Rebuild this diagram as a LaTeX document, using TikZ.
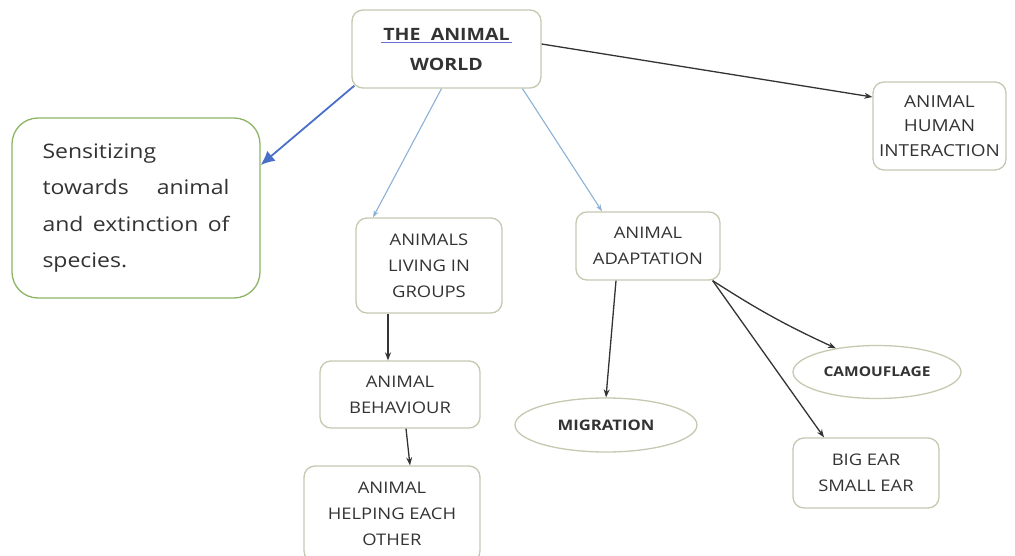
\documentclass[tikz,border=0pt]{standalone}
\usepackage{fontspec}
\setmainfont{Open Sans}[FakeStretch=1.15]
\usetikzlibrary{arrows.meta,shapes.geometric,calc}
\definecolor{txt}{HTML}{333333}
\definecolor{boxline}{HTML}{C4C9B0}
\definecolor{greenline}{HTML}{8DB566}
\definecolor{darkblue}{HTML}{4A6FC8}
\definecolor{lightblue}{HTML}{8CB0D6}
\definecolor{arrowgray}{HTML}{333333}
\definecolor{ulblue}{HTML}{6A6FD0}
\begin{document}
\begin{tikzpicture}[x=1pt,y=-1pt,
  box/.style={draw=boxline,line width=1.3pt,rounded corners=11pt,align=center,text=txt,inner sep=0pt,
    font={\fontsize{16}{26}\selectfont}},
  oval/.style={draw=boxline,line width=1.3pt,ellipse,inner sep=0pt,text=txt},
  conn/.style={draw=arrowgray,line width=1.3pt,-{Stealth[length=8pt,width=6pt]}},
  lconn/.style={draw=lightblue,line width=1.1pt,-{Stealth[length=7pt,width=5pt]}}]
\useasboundingbox (0,0) rectangle (1015,556);
\clip (0,0) rectangle (1015,556);

\node[box,minimum width=189pt,minimum height=78pt,font={\fontsize{17}{30}\selectfont\bfseries}] (taw) at (446.5,49) {THE\ \ ANIMAL\\WORLD};
\draw[ulblue,line width=1pt] ($(taw.center)+(-66,-6)$) -- ++(131,0);

\node[draw=greenline,line width=1.3pt,rounded corners=26pt,minimum width=248pt,minimum height=180pt,inner sep=0pt,text=txt,align=left,font={\fontsize{20}{36.5}\selectfont}] (sens) at (136,208)
  {\hbox to 187pt{Sensitizing\hfil}\\\hbox to 187pt{towards\hfil animal}\\\hbox to 187pt{and\hfil extinction\hfil of}\\\hbox to 187pt{species.\hfil}};

\node[box,minimum width=133pt,minimum height=88pt,font={\fontsize{16.5}{24.5}\selectfont}] (ahi) at (939.5,126) {ANIMAL\\HUMAN\\INTERACTION};
\node[box,minimum width=146pt,minimum height=95pt] (alig) at (429,265.5) {ANIMALS\\LIVING IN\\GROUPS};
\node[box,minimum width=144pt,minimum height=68pt] (aa) at (648,246) {ANIMAL\\ADAPTATION};
\node[box,minimum width=160pt,minimum height=67pt] (ab) at (400,394.5) {ANIMAL\\BEHAVIOUR};
\node[box,minimum width=176pt,minimum height=96pt] (aheo) at (392,514) {ANIMAL\\HELPING EACH\\OTHER};
\node[oval,minimum width=182pt,minimum height=54pt,font={\fontsize{14.5}{18}\selectfont\bfseries}] (mig) at (606,425) {MIGRATION};
\node[oval,minimum width=168pt,minimum height=53pt,font={\fontsize{13.5}{16}\selectfont\bfseries}] (cam) at (877,372) {CAMOUFLAGE};
\node[box,minimum width=146pt,minimum height=70pt] (big) at (866,473) {BIG EAR\\SMALL EAR};

\draw[darkblue,line width=1.8pt,-{Latex[length=14pt,width=13pt]}] ($(taw.south west)+(3,-3)$) -- ([yshift=43pt]sens.east);
\draw[lconn] ([xshift=-5pt]taw.south) -- ([xshift=-56pt]alig.north);
\draw[lconn] ([xshift=76pt]taw.south) -- ([xshift=-46pt]aa.north);
\draw[conn] ([yshift=5pt]taw.east) -- ([yshift=29pt]ahi.west);
\draw[conn] ([xshift=-41pt]alig.south) -- ([xshift=-12pt]ab.north);
\draw[conn] ([xshift=6pt]ab.south) -- ([xshift=18pt]aheo.north);
\draw[conn] ([xshift=-32pt]aa.south) -- (mig.north);
\draw[conn] ([xshift=-8pt]aa.south east) to[bend right=4] (cam.150);
\draw[conn] ([xshift=-8pt]aa.south east) -- ([xshift=-42pt]big.north);
\end{tikzpicture}
\end{document}
